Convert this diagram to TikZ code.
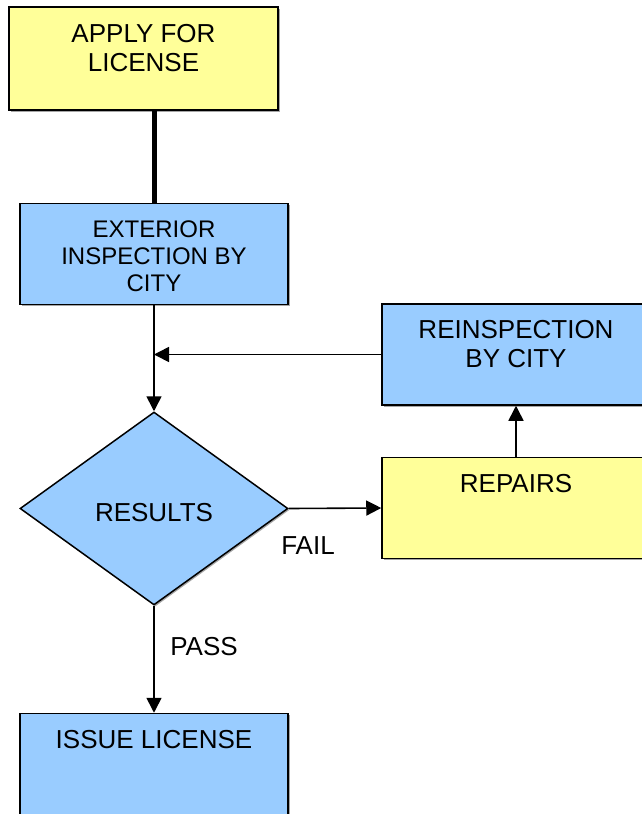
\documentclass[tikz,border=0pt]{standalone}
\usepackage{fontspec}
\setmainfont{Liberation Sans}
\usetikzlibrary{shapes.geometric,arrows.meta,shadows}
\definecolor{boxyellow}{HTML}{FFFF99}
\definecolor{boxblue}{HTML}{99CCFF}
\begin{document}
\begin{tikzpicture}[x=1pt,y=-1pt,
  box/.style={draw=black, line width=1.5pt, minimum width=268pt, minimum height=101pt, inner sep=0pt,
    drop shadow={shadow xshift=1.5pt, shadow yshift=-1.5pt, fill=black!35, opacity=1}},
  ybox/.style={box, fill=boxyellow},
  bbox/.style={box, fill=boxblue},
  txt/.style={align=center, inner sep=0pt, font=\fontsize{26}{29.5}\selectfont},
  stxt/.style={align=center, inner sep=0pt, font=\fontsize{24}{27}\selectfont},
  conn/.style={line width=1.6pt, -{Triangle[length=15pt,width=15pt]}}
]
\useasboundingbox (0,0) rectangle (642,814);
\clip (0,0) rectangle (642,814);
\fill[white] (0,0) rectangle (642,814);
% boxes
\node[ybox, minimum width=269pt, minimum height=103pt] (apply) at (143.5,58.5) {};
\node[txt] (applyt) at (143.5,48) {APPLY FOR\\LICENSE};
\node[bbox] (ext) at (154,254) {};
\node[stxt] (extt) at (154,256) {EXTERIOR\\INSPECTION BY\\CITY};
\node[diamond, draw=black, line width=1.5pt, fill=boxblue, minimum width=268pt, minimum height=193pt, inner sep=0pt, aspect=1.39,
  drop shadow={shadow xshift=1.5pt, shadow yshift=-1.5pt, fill=black!35, opacity=1}] (res) at (154,508.5) {};
\node[txt] (rest) at (154,513) {RESULTS};
\node[bbox] (reinsp) at (516,354.5) {};
\node[txt] (reinspt) at (516,344) {REINSPECTION\\BY CITY};
\node[ybox] (rep) at (516,508) {};
\node[txt] (rept) at (516,484) {REPAIRS};
\node[bbox] (issue) at (154,764) {};
\node[txt] (issuet) at (154,740) {ISSUE LICENSE};
% connectors
\draw[line width=5pt] (ext.north |- apply.south) -- (ext.north);
\draw[conn] (ext.south) -- (res.north);
\draw[conn] (reinsp.west) -- (reinsp.west -| ext.south);
\draw[conn] (rep.north) -- (reinsp.south);
\draw[conn] (res.east) -- (rep.west);
\draw[conn] (res.south) -- (issue.north);
% labels
\node[txt] (fail) at (308,546) {FAIL};
\node[txt] (pass) at (204,647) {PASS};
\end{tikzpicture}
\end{document}
